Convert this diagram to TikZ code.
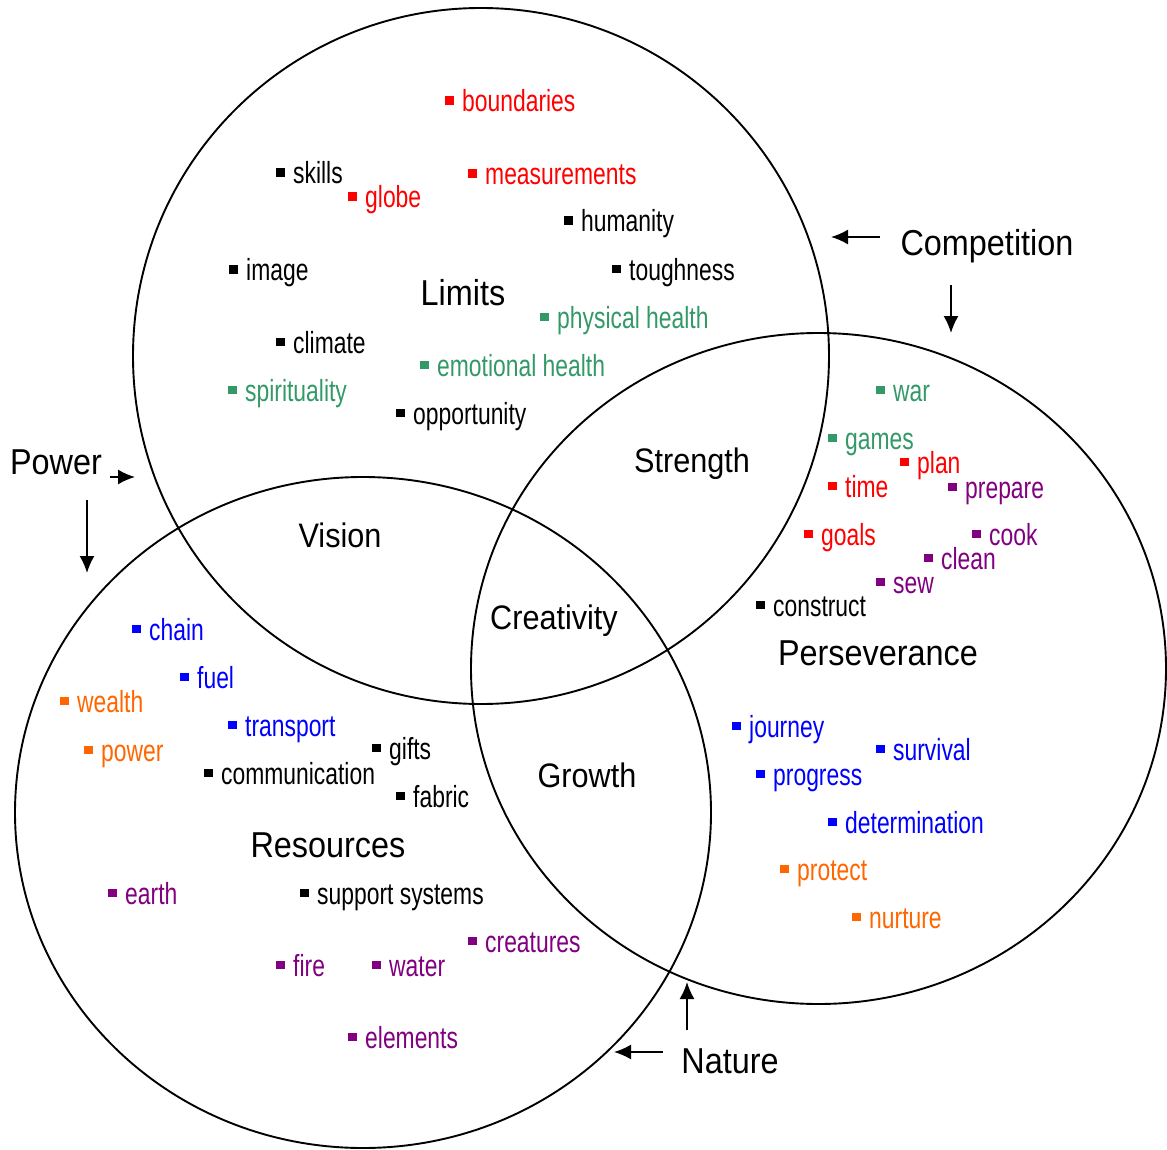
\documentclass[tikz,border=0pt]{standalone}
\usepackage{fontspec}
\usetikzlibrary{arrows.meta,shapes.geometric}
\newfontfamily\itemfont[FakeStretch=0.75]{Liberation Sans}
\newfontfamily\headfont[FakeStretch=0.9]{Liberation Sans}
\definecolor{cred}{RGB}{255,0,0}
\definecolor{cgreen}{RGB}{51,153,102}
\definecolor{cpurple}{RGB}{128,0,128}
\definecolor{cblue}{RGB}{0,0,255}
\definecolor{corange}{RGB}{255,102,0}
\definecolor{cblack}{RGB}{0,0,0}
\tikzset{
  ring/.style={draw, ellipse, inner sep=0pt, outer sep=0pt, line width=1.9pt},
  item/.style={anchor=base west, inner sep=0pt, font=\itemfont\fontsize{30.5pt}{32pt}\selectfont},
  heading/.style={inner sep=0pt, font=\headfont\fontsize{36pt}{38pt}\selectfont},
  inter/.style={inner sep=0pt, font=\headfont\fontsize{34pt}{36pt}\selectfont},
  pointer/.style={line width=1.8pt, -{Latex[length=17pt,width=15pt]}}
}
\newcommand\itm[5]{\node[item, text=#4] (#1) at (#2,#3+11) {\rule[7pt]{8.5pt}{8.5pt}\hspace{8.5pt}#5};}
\begin{document}
\begin{tikzpicture}[x=1pt,y=-1pt]
\useasboundingbox (0,0) rectangle (1167,1150);
\node[ring, minimum width=696pt, minimum height=696pt] (cLimits) at (481,356) {};
\node[ring, minimum width=696pt, minimum height=671pt] (cRes) at (363,812.5) {};
\node[ring, minimum width=695pt, minimum height=671pt] (cPers) at (818.5,668.5) {};

% top circle
\itm{boundaries}{445}{101}{cred}{boundaries}
\itm{skills}{276}{173}{cblack}{skills}
\itm{globe}{348}{197}{cred}{globe}
\itm{measurements}{468}{174}{cred}{measurements}
\itm{humanity}{564}{221}{cblack}{humanity}
\itm{image}{229}{270}{cblack}{image}
\itm{toughness}{612}{269}{cblack}{toughness}
\itm{physical}{540}{317}{cgreen}{physical health}
\itm{climate}{276}{342}{cblack}{climate}
\itm{emotional}{420}{365}{cgreen}{emotional health}
\itm{spirituality}{228}{390}{cgreen}{spirituality}
\itm{opportunity}{396}{413}{cblack}{opportunity}
\node[heading] (limits) at (463,293) {Limits};

% intersections
\node[inter] (strength) at (692,464) {Strength};
\node[inter] (vision) at (340,535) {Vision};
\node[inter] (creativity) at (554,621) {Creativity};
\node[inter] (growth) at (587,775) {Growth};

% right circle
\itm{war}{876}{390}{cgreen}{war}
\itm{games}{828}{438}{cgreen}{games}
\itm{plan}{900}{462}{cred}{plan}
\itm{time}{828}{486}{cred}{time}
\itm{prepare}{948}{487}{cpurple}{prepare}
\itm{goals}{804}{534}{cred}{goals}
\itm{cook}{972}{534}{cpurple}{cook}
\itm{clean}{924}{558}{cpurple}{clean}
\itm{sew}{876}{582}{cpurple}{sew}
\itm{construct}{756}{605}{cblack}{construct}
\node[heading] (perseverance) at (878,653) {Perseverance};
\itm{journey}{732}{726}{cblue}{journey}
\itm{survival}{876}{749}{cblue}{survival}
\itm{progress}{756}{774}{cblue}{progress}
\itm{determination}{828}{822}{cblue}{determination}
\itm{protect}{780}{869}{corange}{protect}
\itm{nurture}{852}{917}{corange}{nurture}

% left circle
\itm{chain}{132}{629}{cblue}{chain}
\itm{fuel}{180}{677}{cblue}{fuel}
\itm{wealth}{60}{701}{corange}{wealth}
\itm{transport}{228}{725}{cblue}{transport}
\itm{power}{84}{750}{corange}{power}
\itm{gifts}{372}{748}{cblack}{gifts}
\itm{communication}{204}{773}{cblack}{communication}
\itm{fabric}{396}{796}{cblack}{fabric}
\node[heading] (resources) at (328,845) {Resources};
\itm{earth}{108}{893}{cpurple}{earth}
\itm{support}{300}{893}{cblack}{support systems}
\itm{creatures}{468}{941}{cpurple}{creatures}
\itm{fire}{276}{965}{cpurple}{fire}
\itm{water}{372}{965}{cpurple}{water}
\itm{elements}{348}{1037}{cpurple}{elements}

% outside labels and pointers
\node[heading] (competition) at (987,246) {Competition};
\coordinate (compA1) at (880,237);
\coordinate (compB1) at (831,237);
\coordinate (compA2) at (951,285);
\coordinate (compB2) at (951,333);
\draw[pointer] (compA1) -- (compB1);
\draw[pointer] (compA2) -- (compB2);

\node[heading] (powerlbl) at (56,462) {Power};
\coordinate (powA1) at (110,477);
\coordinate (powB1) at (135,477);
\coordinate (powA2) at (87,500);
\coordinate (powB2) at (87,573);
\draw[pointer] (powA1) -- (powB1);
\draw[pointer] (powA2) -- (powB2);

\node[heading] (nature) at (730,1061) {Nature};
\coordinate (natA1) at (687,1030);
\coordinate (natB1) at (687,982);
\coordinate (natA2) at (663,1052);
\coordinate (natB2) at (614,1052);
\draw[pointer] (natA1) -- (natB1);
\draw[pointer] (natA2) -- (natB2);
\end{tikzpicture}
\end{document}
